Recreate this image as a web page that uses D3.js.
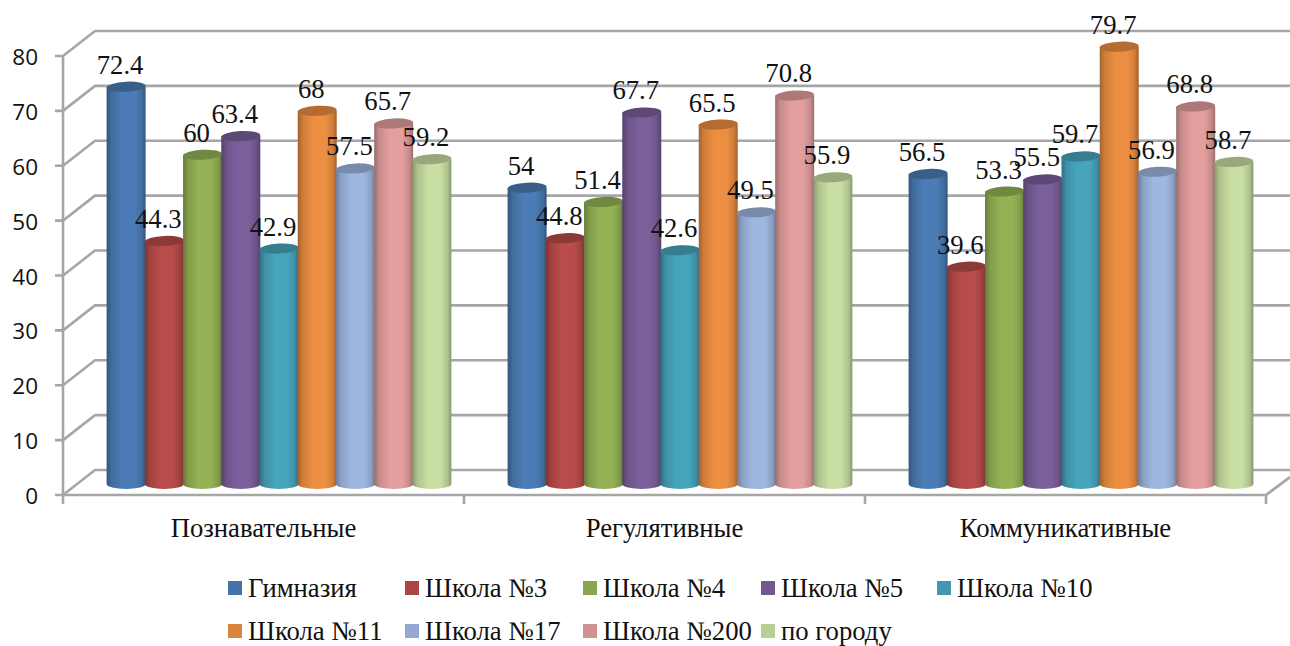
<!DOCTYPE html>
<html><head><meta charset="utf-8">
<script src="https://cdn.jsdelivr.net/npm/d3@7"></script>
<style>html,body{margin:0;padding:0;background:#fff}svg{display:block}</style></head>
<body><svg id="c" width="1290" height="646"></svg>
<script>
const categories = ["Познавательные","Регулятивные","Коммуникативные"];
const seriesNames = ["Гимназия","Школа №3","Школа №4","Школа №5","Школа №10","Школа №11","Школа №17","Школа №200","по городу"];
const gimnaziya = [72.4,54,56.5];
const school3 = [44.3,44.8,39.6];
const school4 = [60,51.4,53.3];
const school5 = [63.4,67.7,55.5];
const school10 = [42.9,42.6,59.7];
const school11 = [68,65.5,79.7];
const school17 = [57.5,49.5,56.9];
const school200 = [65.7,70.8,68.8];
const cityAvg = [59.2,55.9,58.7];
const seriesValues = [gimnaziya,school3,school4,school5,school10,school11,school17,school200,cityAvg];
const colors = ["#4573a7","#aa4644","#89a54e","#71588f","#4298af","#db843d","#93a9cf","#d19392","#b9cd96"];
const yTicks = [0,10,20,30,40,50,60,70,80];

const svg = d3.select("#c");
const defs = svg.append("defs");
const serif = "'Liberation Serif',serif";
const y = d3.scaleLinear().domain([0,80]).range([495,56]);
const depthX = 32, depthY = 25, barDrop = 11;
const x0 = d3.scaleBand().domain(categories).range([63,1266]);
const x1 = d3.scaleBand().domain(seriesNames).range([44,388]);
const grid = "#a6a6a6";

const g = svg.append("g").attr("fill","none").attr("stroke",grid).attr("stroke-width",2.6);
yTicks.forEach(t=>{
  g.append("path").attr("d",`M55,${y(t)}H63L${63+depthX},${y(t)-depthY}H1290`);
});
g.append("path").attr("d",`M63,${y(80)}V${y(0)}H1266L1290,${y(0)-18}`);
d3.range(categories.length+1).forEach(i=>{
  const tx = i<categories.length ? x0(categories[i]) : x0.range()[1];
  g.append("path").attr("d",`M${tx},${y(0)}v9`);
});

svg.append("g").selectAll("text").data(yTicks).join("text")
  .attr("x",38).attr("y",d=>y(d)+9).attr("text-anchor","end")
  .attr("font-family","'Open Sans',sans-serif").attr("font-size",22.5).attr("fill","#111").text(d=>d);

colors.forEach((c,i)=>{
  const lg = defs.append("linearGradient").attr("id","g"+i);
  const base = d3.color(c), hi = base.brighter(0.22), dk = base.darker(0.85), md = base.darker(0.15);
  [[0,dk],[.13,md],[.4,hi],[.72,hi],[.9,md],[1,dk]].forEach(s=>
    lg.append("stop").attr("offset",s[0]).attr("stop-color",s[1]));
});

const rx = 19.5, ry = 5;
const bars = svg.append("g");
const labels = svg.append("g");
categories.forEach((cat,ci)=>{
  seriesNames.forEach((s,si)=>{
    const v = seriesValues[si][ci];
    const left = x0(cat)+x1(s), cx = left+x1.bandwidth()/2;
    const top = y(v)-barDrop, base = y(0)-barDrop;
    const tilt = -3;
    const bg = bars.append("g");
    bg.append("path").attr("fill",`url(#g${si})`)
      .attr("d",`M${cx-rx},${top}V${base}A${rx},${ry} 0 0 0 ${cx+rx},${base}V${top}Z`);
    bg.append("ellipse").attr("cx",cx).attr("cy",top).attr("rx",rx).attr("ry",ry)
      .attr("transform",`rotate(${tilt} ${cx} ${top})`)
      .attr("fill",d3.color(colors[si]).darker(0.55));
    labels.append("text").attr("x",cx-6).attr("y",top-13).attr("text-anchor","middle")
      .attr("font-family",serif).attr("font-size",26.7).attr("fill","#111").text(v);
  });
});

svg.append("g").selectAll("text").data(categories).join("text")
  .attr("x",d=>x0(d)+x0.bandwidth()/2).attr("y",537).attr("text-anchor","middle")
  .attr("font-family",serif).attr("font-size",26.7).attr("fill","#111").text(d=>d);

const legendX = [228,405,583,761,937];
const legendLayout = [[0,0],[1,0],[2,0],[3,0],[4,0],[0,1],[1,1],[2,1],[3,1]];
const legendY = [588,631];
const lg = svg.append("g");
seriesNames.forEach((s,i)=>{
  const [c,r] = legendLayout[i];
  lg.append("rect").attr("x",legendX[c]).attr("y",legendY[r]-7).attr("width",14).attr("height",14).attr("fill",colors[i]);
  lg.append("text").attr("x",legendX[c]+20).attr("y",legendY[r]+9)
    .attr("font-family",serif).attr("font-size",26.7).attr("fill","#111").text(s);
});
</script></body></html>
